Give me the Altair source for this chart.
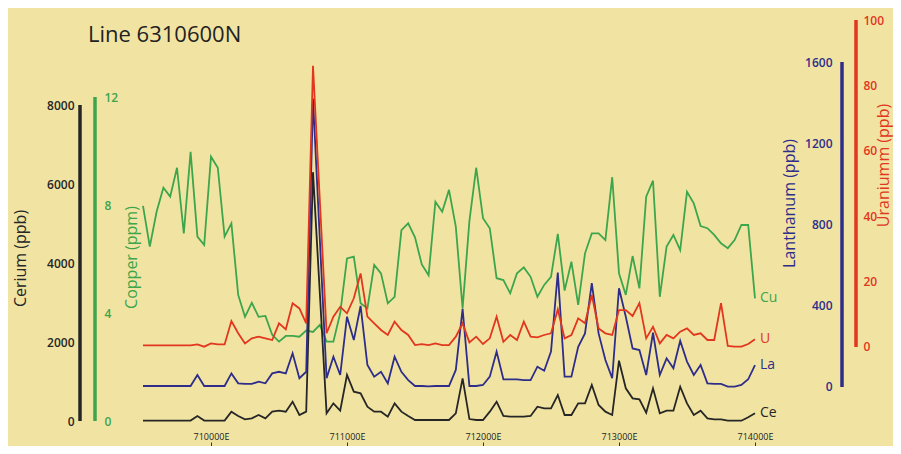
import altair as alt
import pandas as pd

# ---------------- data ----------------
easting = [
    709500, 709550, 709600, 709650, 709700, 709750, 709800, 709850, 709900, 709950,
    710000, 710050, 710100, 710150, 710200, 710250, 710300, 710350, 710400, 710450,
    710500, 710550, 710600, 710650, 710700, 710750, 710800, 710850, 710900, 710950,
    711000, 711050, 711100, 711150, 711200, 711250, 711300, 711350, 711400, 711450,
    711500, 711550, 711600, 711650, 711700, 711750, 711800, 711850, 711900, 711950,
    712000, 712050, 712100, 712150, 712200, 712250, 712300, 712350, 712400, 712450,
    712500, 712550, 712600, 712650, 712700, 712750, 712800, 712850, 712900, 712950,
    713000, 713050, 713100, 713150, 713200, 713250, 713300, 713350, 713400, 713450,
    713500, 713550, 713600, 713650, 713700, 713750, 713800, 713850, 713900, 713950,
    714000,
]

copper = [
    7.97, 6.46, 7.75, 8.64, 8.31, 9.38, 6.95, 9.97, 6.83, 6.52,
    9.79, 9.38, 6.83, 7.32, 4.67, 3.86, 4.38, 3.86, 3.89, 3.19,
    2.94, 3.15, 3.15, 3.12, 3.35, 3.30, 3.56, 2.94, 2.94, 3.99,
    6.02, 6.09, 4.36, 4.17, 5.78, 5.47, 4.36, 4.60, 7.07, 7.32,
    6.80, 5.80, 5.40, 8.12, 7.75, 8.56, 7.20, 4.17, 7.40, 9.38,
    7.51, 7.14, 5.29, 5.22, 4.73, 5.47, 5.69, 5.34, 4.60, 5.04,
    5.34, 6.93, 4.83, 5.90, 4.30, 6.21, 6.95, 6.95, 6.70, 9.03,
    5.47, 4.67, 6.11, 4.91, 8.31, 8.90, 4.60, 6.46, 6.89, 6.33,
    8.49, 8.06, 7.22, 7.14, 6.89, 6.58, 6.40, 6.70, 7.26, 7.26,
    4.54,
]

cerium = [
    10, 10, 10, 10, 10, 10, 10, 10, 127, 10,
    10, 10, 10, 236, 127, 42, 68, 152, 68, 236,
    261, 236, 489, 152, 236, 6300, 3250, 194, 447, 261,
    1165, 742, 700, 363, 236, 236, 110, 447, 236, 127,
    25, 25, 25, 25, 25, 25, 194, 1080, 50, 25,
    25, 236, 489, 127, 110, 110, 110, 127, 363, 321,
    321, 658, 152, 152, 447, 447, 911, 405, 236, 152,
    1527, 827, 574, 549, 211, 827, 194, 261, 261, 869,
    447, 152, 261, 68, 42, 42, 8, 8, 8, 93,
    194,
]

lanthanum = [
    5, 5, 5, 5, 5, 5, 5, 5, 59, 5,
    5, 5, 5, 67, 18, 15, 15, 26, 18, 67,
    75, 67, 166, 43, 75, 1420, 730, 43, 149, 59,
    346, 231, 399, 108, 51, 75, 18, 149, 75, 34,
    5, 5, 3, 5, 5, 5, 84, 385, 5, 5,
    10, 51, 174, 38, 38, 38, 34, 34, 100, 80,
    174, 563, 51, 51, 198, 264, 511, 264, 133, 43,
    486, 346, 190, 182, 59, 267, 59, 141, 92, 228,
    125, 59, 108, 18, 15, 15, 2, 2, 10, 38,
    108,
]

uranium = [
    0.5, 0.5, 0.5, 0.5, 0.5, 0.5, 0.5, 0.5, 0.8, 0.1,
    1.1, 0.8, 0.8, 7.95, 4.2, 1.1, 2.65, 3.16, 2.65, 2.14,
    7.24, 5.4, 13.4, 11.8, 7.24, 86, 45, 4.2, 9.27, 12.3,
    10.3, 14.9, 22.5, 9.27, 7.24, 5.2, 3.67, 7.74, 5.2, 3.67,
    0.6, 0.9, 0.6, 1.1, 0.6, 0.6, 3.16, 7.24, 1.4, 3.16,
    0.9, 2.65, 9.27, 1.6, 3.67, 2.14, 7.74, 3.16, 2.96, 3.67,
    4.18, 11.5, 2.65, 3.67, 8.77, 7.24, 15.9, 5.7, 4.18, 3.67,
    11.3, 11.3, 9.48, 13.4, 2.65, 6.2, 1.1, 3.67, 2.65, 4.7,
    5.7, 3.67, 4.18, 2.14, 2.14, 13.4, 0.3, 0.1, 0.1, 0.9,
    2.35,
]

x_ticks = [710000, 711000, 712000, 713000, 714000]
ce_ticks = [0, 2000, 4000, 6000, 8000]
cu_ticks = [0, 4, 8, 12]
la_ticks = [0, 400, 800, 1200, 1600]
u_ticks = [0, 20, 40, 60, 80, 100]

df = pd.DataFrame({"Easting": easting, "Ce": cerium, "Cu": copper,
                   "La": lanthanum, "U": uranium})

# ---------------- style ----------------
FONT = "Open Sans"
BG = "#F1E4A3"
C_CE = "#262626"
C_CU = "#3DA54C"
C_LA = "#2E2D8A"
C_U = "#E2361F"

W, H = 612, 401
x_scale = alt.Scale(domain=[709500, 714000], nice=False, zero=False)

x_axis = alt.Axis(orient="top", offset=-426, values=x_ticks,
                  labelExpr="datum.value + 'E'", domain=False, grid=False,
                  ticks=True, tickSize=4, tickColor="#333", tickWidth=1,
                  labelPadding=1, labelFontSize=9, labelColor="#222",
                  labelFont=FONT, labelFlush=False, labelOverlap=False,
                  title=None)


def y_axis(orient, offset, values, color, title, tx, ty):
    return alt.Axis(orient=orient, offset=offset, values=values, format="d",
                    domain=False, ticks=False, grid=False, labelPadding=4,
                    labelColor=color, labelFontSize=12, labelFont=FONT,
                    labelFontWeight=600, labelOverlap=False, labelFlush=False,
                    title=title, titleColor=color, titleFont=FONT,
                    titleFontSize=16, titleFontWeight="normal", titleAngle=270,
                    titleX=tx, titleY=ty, titleAlign="center",
                    titleBaseline="middle")


def series(field, color, domain, axis, rule_x, rule_top, label):
    ys = alt.Scale(domain=domain, nice=False, zero=False)
    xenc = alt.X("Easting:Q", scale=x_scale, axis=x_axis)
    line = alt.Chart(df).mark_line(color=color, strokeWidth=1.8).encode(
        x=xenc,
        y=alt.Y(f"{field}:Q", scale=ys, axis=axis),
    )
    rule_df = pd.DataFrame({field: [0], "top": [rule_top]})
    rule = alt.Chart(rule_df).mark_rule(color=color, strokeWidth=3.5).encode(
        x=alt.value(rule_x),
        y=alt.Y(f"{field}:Q", scale=ys, axis=axis),
        y2="top:Q",
    )
    end_df = df.tail(1).assign(label=label)
    text = alt.Chart(end_df).mark_text(
        align="left", baseline="middle", dx=5, fontSize=14, font=FONT,
        color=color).encode(
        x=xenc,
        y=alt.Y(f"{field}:Q", scale=ys, axis=axis),
        text="label:N",
    )
    return alt.layer(line, rule, text)


cu = series("Cu", C_CU, [0, 14.852],
            y_axis("right", -655, cu_ticks, C_CU, "Copper (ppm)", 31, 237),
            -48, 12, "Cu")
ce = series("Ce", C_CE, [0, 10152],
            y_axis("left", 65, ce_ticks, C_CE, "Cerium (ppb)", -58, 238),
            -63, 8000, "Ce")
la = series("La", C_LA, [-167.4, 1806.8],
            y_axis("left", -693, la_ticks, C_LA, "Lanthanum (ppb)", -47, 183),
            699, 1600, "La")
u = series("U", C_U, [-22.63, 100],
           y_axis("right", 104, u_ticks, C_U, "Uraniumm (ppb)", 24, 145),
           713, 100, "U")

chart = (
    alt.layer(cu, ce, la, u)
    .resolve_scale(y="independent")
    .properties(
        width=W, height=H,
        padding={"left": 135, "top": 12, "right": 138, "bottom": 25},
        autosize=alt.AutoSizeParams(type="none"),
        title=alt.TitleParams("Line 6310600N", anchor="start", frame="group",
                              dx=-55, dy=50, offset=0, fontSize=22,
                              fontWeight="normal", font=FONT, color="#222",
                              baseline="alphabetic"),
    )
    .configure(background=BG, font=FONT)
    .configure_view(stroke="transparent")
)

chart.save("out.html", embed_options={"renderer": "svg", "actions": False})
